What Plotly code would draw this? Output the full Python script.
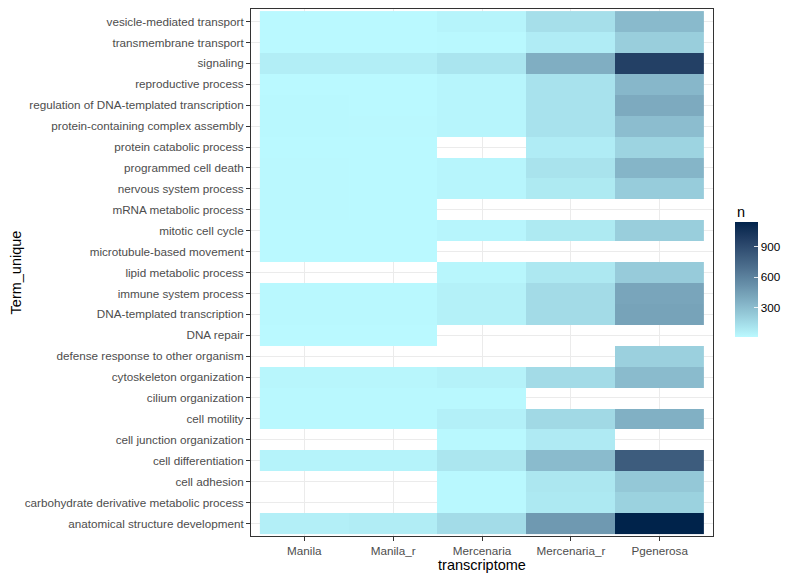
import numpy as np
import plotly.graph_objects as go

transcriptomes = ["Manila", "Manila_r", "Mercenaria", "Mercenaria_r", "Pgenerosa"]

# Terms listed bottom to top (ggplot factor order)
terms = [
    "anatomical structure development",
    "carbohydrate derivative metabolic process",
    "cell adhesion",
    "cell differentiation",
    "cell junction organization",
    "cell motility",
    "cilium organization",
    "cytoskeleton organization",
    "defense response to other organism",
    "DNA repair",
    "DNA-templated transcription",
    "immune system process",
    "lipid metabolic process",
    "microtubule-based movement",
    "mitotic cell cycle",
    "mRNA metabolic process",
    "nervous system process",
    "programmed cell death",
    "protein catabolic process",
    "protein-containing complex assembly",
    "regulation of DNA-templated transcription",
    "reproductive process",
    "signaling",
    "transmembrane transport",
    "vesicle-mediated transport",
]

N = None
# counts per term: [Manila, Manila_r, Mercenaria, Mercenaria_r, Pgenerosa]
counts = {
    "anatomical structure development": [50, 62, 140, 470, 1140],
    "carbohydrate derivative metabolic process": [N, N, 10, 80, 190],
    "cell adhesion": [N, N, 10, 90, 235],
    "cell differentiation": [32, 32, 95, 300, 800],
    "cell junction organization": [N, N, 10, 72, N],
    "cell motility": [10, 10, 45, 155, 355],
    "cilium organization": [8, 8, 8, N, N],
    "cytoskeleton organization": [18, 18, 36, 145, 300],
    "defense response to other organism": [N, N, N, N, 195],
    "DNA repair": [5, 5, N, N, N],
    "DNA-templated transcription": [8, 8, 40, 145, 420],
    "immune system process": [8, 8, 40, 145, 410],
    "lipid metabolic process": [N, N, 18, 85, 220],
    "microtubule-based movement": [4, 4, N, N, N],
    "mitotic cell cycle": [5, 5, 22, 76, 205],
    "mRNA metabolic process": [6, 3, N, N, N],
    "nervous system process": [6, 5, 20, 76, 215],
    "programmed cell death": [6, 5, 20, 108, 330],
    "protein catabolic process": [5, 5, N, 63, 180],
    "protein-containing complex assembly": [8, 6, 22, 112, 290],
    "regulation of DNA-templated transcription": [8, 5, 22, 112, 385],
    "reproductive process": [5, 5, 22, 112, 320],
    "signaling": [54, 54, 100, 365, 960],
    "transmembrane transport": [5, 5, 8, 63, 205],
    "vesicle-mediated transport": [5, 5, 27, 126, 305],
}

z = [[np.nan if v is None else v for v in counts[t]] for t in terms]

# --- Lab interpolated colour scale (like ggplot scale_fill_gradient) ---
def hex_to_rgb(h):
    h = h.lstrip("#")
    return [int(h[i:i + 2], 16) / 255 for i in (0, 2, 4)]

def srgb_to_lin(c):
    return [x / 12.92 if x <= 0.04045 else ((x + 0.055) / 1.055) ** 2.4 for x in c]

def lin_to_srgb(c):
    return [12.92 * x if x <= 0.0031308 else 1.055 * x ** (1 / 2.4) - 0.055 for x in c]

M = np.array([[0.4124, 0.3576, 0.1805], [0.2126, 0.7152, 0.0722], [0.0193, 0.1192, 0.9505]])
WP = np.array([0.95047, 1.0, 1.08883])

def rgb_to_lab(rgb):
    xyz = M @ np.array(srgb_to_lin(rgb)) / WP
    f = np.where(xyz > 0.008856, np.cbrt(xyz), 7.787 * xyz + 16 / 116)
    return np.array([116 * f[1] - 16, 500 * (f[0] - f[1]), 200 * (f[1] - f[2])])

def lab_to_rgb(lab):
    fy = (lab[0] + 16) / 116
    fx = fy + lab[1] / 500
    fz = fy - lab[2] / 200
    f = np.array([fx, fy, fz])
    xyz = np.where(f ** 3 > 0.008856, f ** 3, (f - 16 / 116) / 7.787) * WP
    lin = np.linalg.solve(M, xyz)
    rgb = np.clip(lin_to_srgb(np.clip(lin, 0, None)), 0, 1)
    return "rgb(%d,%d,%d)" % tuple(int(round(v * 255)) for v in rgb)

low, high = rgb_to_lab(hex_to_rgb("#BAF9FF")), rgb_to_lab(hex_to_rgb("#00234B"))
colorscale = [[t, lab_to_rgb(low + (high - low) * t)] for t in np.linspace(0, 1, 21)]

font = "Liberation Sans, Arial, Helvetica, sans-serif"

# The page has an 8px body margin, so the figure is drawn 8px right/down.
W, H = 792, 571
OFF = 8
L, R, T, B = 251 - OFF, 87, 1, 43
PW, PH = W - L - R, H - T - B

fig = go.Figure(go.Heatmap(
    x=transcriptomes,
    y=terms,
    z=z,
    colorscale=colorscale,
    zmin=3, zmax=1140,
    xgap=0, ygap=0,
    colorbar=dict(
        xref="container", x=(735 - OFF) / W, xanchor="left",
        yref="container", y=(579 - 340 - 25) / H, yanchor="bottom",
        lenmode="pixels", len=115, thickness=23,
        outlinewidth=0,
        tickvals=[300, 600, 900],
        ticks="inside", ticklen=4, tickcolor="rgba(255,255,255,0.85)",
        tickfont=dict(size=11.7, color="black", family=font),
        xpad=0, ypad=0,
    ),
))

fig.add_annotation(
    text="n", xref="paper", yref="paper",
    x=(735 - OFF - L) / PW, y=1 - (212 - OFF - T) / PH,
    xanchor="left", yanchor="middle", showarrow=False,
    font=dict(size=14.5, color="black", family=font),
)

axis_common = dict(
    showgrid=True, gridcolor="#EBEBEB", gridwidth=1,
    showline=True, linecolor="#333333", linewidth=1, mirror=True,
    ticks="outside", ticklen=4, tickcolor="#333333",
    tickfont=dict(size=11.7, color="#4D4D4D", family=font),
    zeroline=False,
)

fig.update_layout(
    width=W, height=H,
    margin=dict(l=L, r=R, t=T, b=B, autoexpand=False),
    paper_bgcolor="white", plot_bgcolor="white",
    font=dict(family=font),
    xaxis=dict(axis_common, type="category", range=[-0.6, 4.6], automargin=False,
               title=dict(text="transcriptome", font=dict(size=14.5, color="black"), standoff=1)),
    yaxis=dict(axis_common, type="category", range=[-0.6, 24.6], automargin=False,
               title=dict(text="Term_unique", font=dict(size=14.5, color="black"), standoff=12)),
)

fig.write_html("out.html")
